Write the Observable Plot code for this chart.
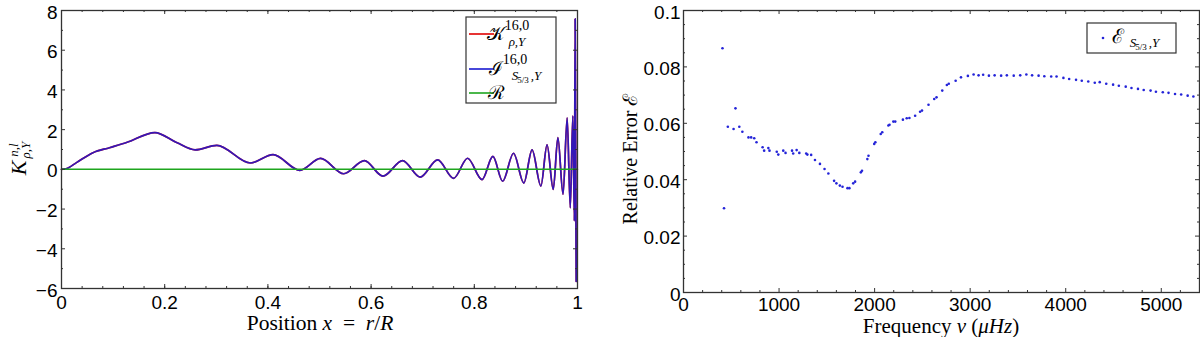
<!DOCTYPE html>
<html><head><meta charset="utf-8">
<script src="https://cdn.jsdelivr.net/npm/d3@7"></script>
<script src="https://cdn.jsdelivr.net/npm/@observablehq/plot@0.6"></script>
<style>
body{margin:0;background:#fff;}
#wrap{display:flex;width:1200px;height:337px;overflow:hidden;}
#wrap svg{display:block;}
</style></head><body><div id="wrap"></div>
<script>
// ---------- data ----------
const kernelX = [0, 0.009, 0.029, 0.061, 0.093, 0.126, 0.181, 0.223, 0.259, 0.301,
  0.366, 0.41, 0.462, 0.502, 0.547, 0.587, 0.623, 0.661, 0.695, 0.729,
  0.76, 0.787, 0.815, 0.836, 0.855, 0.876, 0.896, 0.912, 0.929, 0.941,
  0.953, 0.962, 0.972, 0.98, 0.986, 0.991, 0.994, 0.9955, 0.9975];
const kernelY = [0, 0.03, 0.34, 0.84, 1.09, 1.35, 1.85, 1.35, 0.98, 1.21,
  0.32, 0.74, -0.05, 0.55, -0.22, 0.44, -0.34, 0.44, -0.39, 0.48,
  -0.45, 0.56, -0.52, 0.65, -0.6, 0.81, -0.69, 0.98, -0.84, 1.23,
  -1.01, 1.6, -1.26, 2.6, -1.94, 2.7, -2.6, 7.58, -5.64];
const residualX = [0, 1];
const residualY = [0, 0];

const freq = [408, 424, 464, 524, 544, 584, 616, 680, 708, 740, 764, 828, 844, 888, 900, 976, 992,
  1044, 1068, 1136, 1148, 1184, 1212, 1284, 1296, 1336, 1376, 1428, 1476, 1516, 1576, 1600, 1636,
  1664, 1716, 1736, 1776, 1796, 1856, 1868, 1924, 1936, 1996, 2008, 2064, 2080, 2144, 2156, 2196,
  2216, 2296, 2336, 2364, 2424, 2476, 2496, 2564, 2624, 2648, 2708, 2756, 2776, 2848, 2904, 2976,
  3036, 3088, 3136, 3196, 3256, 3324, 3384, 3456, 3524, 3588, 3648, 3716, 3776, 3848, 3904, 3976,
  4036, 4108, 4168, 4236, 4304, 4356, 4424, 4496, 4556, 4628, 4688, 4756, 4816, 4888, 4944, 5016,
  5076, 5144, 5208, 5276, 5336];
const relErr = [0.0866, 0.0299, 0.0588, 0.058, 0.0653, 0.0588, 0.057, 0.055, 0.055, 0.0547, 0.0533,
  0.0515, 0.0503, 0.0512, 0.0503, 0.0499, 0.0489, 0.0503, 0.0495, 0.0503, 0.0493, 0.0505, 0.0495,
  0.0493, 0.0489, 0.0488, 0.047, 0.0456, 0.0438, 0.0422, 0.0396, 0.0387, 0.0379, 0.0375, 0.037,
  0.037, 0.0387, 0.0393, 0.0426, 0.0432, 0.0473, 0.0485, 0.0527, 0.0533, 0.0562, 0.0568, 0.0592,
  0.0595, 0.0606, 0.0606, 0.0613, 0.0618, 0.0619, 0.0627, 0.0641, 0.0645, 0.0666, 0.0686, 0.0692,
  0.0716, 0.0736, 0.074, 0.0751, 0.0763, 0.0768, 0.0773, 0.077, 0.0772, 0.0769, 0.077, 0.0769,
  0.077, 0.0769, 0.077, 0.0773, 0.077, 0.0769, 0.0767, 0.0766, 0.0766, 0.0761, 0.0757, 0.0754,
  0.0751, 0.0748, 0.0744, 0.0746, 0.074, 0.0737, 0.0733, 0.073, 0.0725, 0.0722, 0.0718, 0.0716,
  0.0712, 0.071, 0.0708, 0.0704, 0.0702, 0.0698, 0.0695];

const leftXTicks = [0, 0.2, 0.4, 0.6, 0.8, 1];
const leftYTicks = [-6, -4, -2, 0, 2, 4, 6, 8];
const rightXTicks = [0, 1000, 2000, 3000, 4000, 5000];
const rightYTicks = [0, 0.02, 0.04, 0.06, 0.08, 0.1];

// ---------- helpers ----------
const SERIF = "'Liberation Serif', 'DejaVu Serif', serif";
const SANS = "'Liberation Sans', Arial, sans-serif";
const AX = "#333";
const fmt = d => d < 0 ? "\u2212" + (-d) : String(d);

function tx(g, x, y, str, o = {}) {
  const t = g.append("svg:text").attr("x", x).attr("y", y).text(str)
    .attr("font-family", o.family || SERIF)
    .attr("font-size", o.size || 20)
    .attr("font-style", o.italic ? "italic" : "normal")
    .attr("fill", "#000");
  if (o.anchor) t.attr("text-anchor", o.anchor);
  return t;
}
function richText(g, x, y, parts, o = {}) {
  const t = g.append("svg:text").attr("x", x).attr("y", y)
    .attr("font-family", SERIF).attr("font-size", o.size || 20).attr("fill", "#000");
  if (o.anchor) t.attr("text-anchor", o.anchor);
  for (const [s, it] of parts) {
    t.append("svg:tspan").attr("font-style", it ? "italic" : "normal").text(s);
  }
  return t;
}

function boxTicks(xs, xm, ys, ym, pw, ph) {
  const o = {stroke: AX, strokeWidth: 1};
  return [
    Plot.tickX(xs, {x: d => d, insetTop: ph - 4, ...o}),
    Plot.tickX(xs, {x: d => d, insetBottom: ph - 4, ...o}),
    Plot.tickX(xm, {x: d => d, insetTop: ph - 2, ...o}),
    Plot.tickX(xm, {x: d => d, insetBottom: ph - 2, ...o}),
    Plot.tickY(ys, {y: d => d, insetRight: pw - 4, ...o}),
    Plot.tickY(ys, {y: d => d, insetLeft: pw - 4, ...o}),
    Plot.tickY(ym, {y: d => d, insetRight: pw - 2, ...o}),
    Plot.tickY(ym, {y: d => d, insetLeft: pw - 2, ...o})
  ];
}

// ---------- left chart ----------
const L = {w: 600, h: 337, ml: 61, mr: 23, mt: 10, mb: 49};
const kernel = kernelX.map((x, i) => ({x, y: kernelY[i]}));
const resid = residualX.map((x, i) => ({x, y: residualY[i]}));
const lpw = L.w - L.ml - L.mr, lph = L.h - L.mt - L.mb;

const left = Plot.plot({
  width: L.w, height: L.h,
  marginLeft: L.ml, marginRight: L.mr, marginTop: L.mt, marginBottom: L.mb,
  style: {fontFamily: SANS, fontSize: "19px", color: "#000", background: "#fff"},
  x: {domain: [0, 1]},
  y: {domain: [-6, 8]},
  marks: [
    Plot.line(kernel, {x: "x", y: "y", curve: "monotone-x", stroke: "#e00000", strokeWidth: 1.7}),
    Plot.line(kernel, {x: "x", y: "y", curve: "monotone-x", stroke: "#1a1ad0", strokeOpacity: 0.88, strokeWidth: 1.7}),
    Plot.line(resid, {x: "x", y: "y", stroke: "#1ea51e", strokeWidth: 1.5}),
    ...boxTicks(leftXTicks, d3.range(0.04, 1, 0.04), leftYTicks, d3.range(-5, 8, 2), lpw, lph),
    Plot.axisX(leftXTicks, {tickSize: 0, tickPadding: 7, tickFormat: fmt, label: null}),
    Plot.axisY(leftYTicks, {tickSize: 0, tickPadding: 4, dy: 2, tickFormat: fmt, label: null}),
    Plot.frame({stroke: AX, strokeWidth: 1.3}),
    () => {
      const g = d3.create("svg:g");
      // legend
      g.append("svg:rect").attr("x", 466).attr("y", 17).attr("width", 90).attr("height", 86)
        .attr("fill", "#fff").attr("stroke", AX).attr("stroke-width", 1.2);
      const ln = (y, c) => g.append("svg:line").attr("x1", 469).attr("x2", 494)
        .attr("y1", y).attr("y2", y).attr("stroke", c).attr("stroke-width", 1.6);
      ln(34, "#e00000"); ln(69, "#1a1ad0"); ln(93, "#1ea51e");
      tx(g, 496, 40, "\u{1D4A6}", {size: 19});
      tx(g, 517, 30, "16,0", {size: 14});
      tx(g, 517, 46, "\u03C1,Y", {size: 13, italic: true});
      tx(g, 496, 75, "\u2110", {size: 19});
      tx(g, 515, 64, "16,0", {size: 14});
      tx(g, 515, 80, "S", {size: 13, italic: true});
      tx(g, 523, 83, "5/3", {size: 9});
      tx(g, 536, 80, ",Y", {size: 13, italic: true});
      tx(g, 496, 99, "\u211B", {size: 19});
      // axis titles
      richText(g, 320, 330, [["Position ", false], ["x", true], ["\u2002=\u2002", false], ["r", true], ["/", false], ["R", true]], {size: 21.5, anchor: "middle"});
      const yl = g.append("svg:g").attr("transform", "translate(26,168) rotate(-90)");
      tx(yl, 0, 0, "K", {size: 22, italic: true});
      tx(yl, 18, -8, "n,l", {size: 13, italic: true});
      tx(yl, 18, 4, "\u03C1,Y", {size: 13, italic: true});
      return g.node();
    }
  ]
});

// ---------- right chart ----------
const R = {w: 600, h: 337, ml: 83, mr: 1, mt: 10, mb: 45};
const errs = freq.map((f, i) => ({f, e: relErr[i]}));
const rpw = R.w - R.ml - R.mr, rph = R.h - R.mt - R.mb;

const right = Plot.plot({
  width: R.w, height: R.h,
  marginLeft: R.ml, marginRight: R.mr, marginTop: R.mt, marginBottom: R.mb,
  style: {fontFamily: SANS, fontSize: "19px", color: "#000", background: "#fff"},
  x: {domain: [0, 5400]},
  y: {domain: [0, 0.1]},
  marks: [
    ...boxTicks(rightXTicks, d3.range(200, 5400, 200).filter(d => d % 1000 !== 0), rightYTicks,
      d3.range(0.005, 0.1, 0.005).filter((d, i) => (i + 1) % 4 !== 0), rpw, rph),
    Plot.dot(errs, {x: "f", y: "e", r: 1.3, fill: "#2424d8", stroke: "none"}),
    Plot.axisX(rightXTicks, {tickSize: 0, tickPadding: 5, tickFormat: fmt, label: null}),
    Plot.axisY(rightYTicks, {tickSize: 0, tickPadding: 3, dy: 2, tickFormat: fmt, label: null}),
    Plot.frame({stroke: AX, strokeWidth: 1.3}),
    () => {
      const g = d3.create("svg:g");
      g.append("svg:rect").attr("x", 487).attr("y", 23).attr("width", 89).attr("height", 30)
        .attr("fill", "#fff").attr("stroke", AX).attr("stroke-width", 1.2);
      g.append("svg:circle").attr("cx", 503).attr("cy", 38).attr("r", 1.3).attr("fill", "#2424d8");
      tx(g, 518, 43, "\u2130", {size: 20});
      tx(g, 533, 47, "S", {size: 13, italic: true});
      tx(g, 541, 50, "5/3", {size: 9});
      tx(g, 554, 47, ",Y", {size: 13, italic: true});
      richText(g, 341, 333, [["Frequency ", false], ["\u03BD", true], [" (", false], ["\u03BCHz", true], [")", false]], {size: 21, anchor: "middle"});
      const yl = g.append("svg:g").attr("transform", "translate(37,159) rotate(-90)");
      richText(yl, 0, 0, [["Relative Error ", false], ["\u2130", false]], {size: 20, anchor: "middle"});
      return g.node();
    }
  ]
});

document.getElementById("wrap").append(left, right);
</script>
</body></html>
